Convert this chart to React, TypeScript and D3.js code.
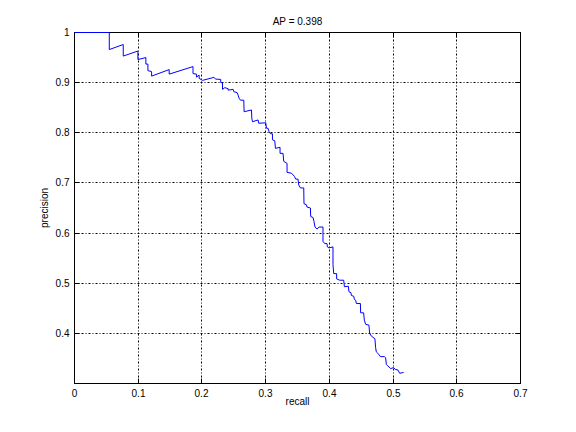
import * as d3 from "d3";

const WIDTH = 576;
const HEIGHT = 432;
const MARGIN = { top: 32.5, right: 55.5, bottom: 48.5, left: 74.5 };

const TITLE = "AP = 0.398";
const X_LABEL = "recall";
const Y_LABEL = "precision";

const X_TICKS = [0, 0.1, 0.2, 0.3, 0.4, 0.5, 0.6, 0.7];
const Y_TICKS = [0.4, 0.5, 0.6, 0.7, 0.8, 0.9, 1];

// vertices of the precision/recall curve
const recall = [
  0, 0.0546, 0.0546, 0.0765, 0.0765, 0.0995, 0.0995, 0.112, 0.112, 0.1152,
  0.1152, 0.121, 0.121, 0.1486, 0.1486, 0.186, 0.186, 0.1916, 0.1916, 0.1956,
  0.1956, 0.201, 0.2187, 0.2218, 0.2295, 0.2295, 0.2323, 0.2323, 0.2359, 0.2411,
  0.2411, 0.249, 0.25, 0.2552, 0.2568, 0.2583, 0.2605, 0.2657, 0.2662, 0.2778,
  0.2783, 0.2794, 0.2881, 0.2892, 0.3002, 0.3013, 0.3038, 0.3054, 0.3076, 0.3107,
  0.3107, 0.3143, 0.3154, 0.3226, 0.3226, 0.3273, 0.3284, 0.3336, 0.3336, 0.3405,
  0.3452, 0.3472, 0.3508, 0.3519, 0.3546, 0.3598, 0.3602, 0.364, 0.3649, 0.3703,
  0.3707, 0.3744, 0.3759, 0.3775, 0.3806, 0.3838, 0.39, 0.39, 0.3927, 0.3963,
  0.3969, 0.3994, 0.4057, 0.4057, 0.4068, 0.4114, 0.4114, 0.4162, 0.4225, 0.4236,
  0.4298, 0.4308, 0.4339, 0.4346, 0.4382, 0.4393, 0.4413, 0.4424, 0.4487, 0.4491,
  0.4538, 0.4549, 0.457, 0.4621, 0.4632, 0.4659, 0.4715, 0.4726, 0.4737, 0.4778,
  0.48, 0.4863, 0.4883, 0.4894, 0.4919, 0.4962, 0.5009, 0.5035, 0.5076, 0.5103,
  0.5165,
];

const precision = [
  1, 1, 0.966, 0.976, 0.953, 0.963, 0.946, 0.95, 0.937, 0.937,
  0.924, 0.922, 0.913, 0.926, 0.917, 0.932, 0.918, 0.917, 0.911, 0.915,
  0.9085, 0.9045, 0.9105, 0.907, 0.9065, 0.9, 0.9, 0.8866, 0.89, 0.888,
  0.885, 0.8866, 0.882, 0.88, 0.875, 0.869, 0.865, 0.865, 0.842, 0.8455,
  0.829, 0.822, 0.8256, 0.819, 0.82, 0.809, 0.809, 0.802, 0.798, 0.798,
  0.786, 0.784, 0.769, 0.771, 0.759, 0.759, 0.743, 0.739, 0.721, 0.7195,
  0.713, 0.7076, 0.7076, 0.696, 0.69, 0.69, 0.6585, 0.6565, 0.652, 0.65,
  0.633, 0.631, 0.623, 0.612, 0.608, 0.612, 0.612, 0.5835, 0.579, 0.579,
  0.5724, 0.5704, 0.5724, 0.537, 0.5193, 0.519, 0.5087, 0.506, 0.506, 0.493,
  0.494, 0.483, 0.481, 0.4755, 0.474, 0.4676, 0.466, 0.4596, 0.4596, 0.441,
  0.441, 0.4264, 0.418, 0.4164, 0.4, 0.3945, 0.3894, 0.3715, 0.363, 0.358,
  0.3536, 0.3536, 0.3516, 0.338, 0.335, 0.3297, 0.3317, 0.328, 0.327, 0.3204,
  0.322,
];

const FONT = "'Liberation Sans', Arial, Helvetica, sans-serif";
const TICK_LEN = 5;
const GRID_DASH = "2,2,1,2";

// snap to pixel centres so the 1px lines stay crisp
const crisp = (v) => Math.floor(v) + 0.5;

const App = () => {
  const left = MARGIN.left;
  const right = WIDTH - MARGIN.right;
  const top = MARGIN.top;
  const bottom = HEIGHT - MARGIN.bottom;

  const xScale = d3.scaleLinear().domain([0, 0.7]).range([left, right]);
  const yScale = d3.scaleLinear().domain([0.3, 1]).range([bottom, top]);

  const points = recall.map((r, i) => [r, precision[i]]);
  const lineBuilder = d3
    .line()
    .x((d) => xScale(d[0]))
    .y((d) => yScale(d[1]));
  const linePath = lineBuilder(points);

  return (
    <svg
      width={WIDTH}
      height={HEIGHT}
      style={{ position: "absolute", left: 0, top: 0, background: "#fff" }}
      fontFamily={FONT}
      fontSize={10}
    >
      <rect width={WIDTH} height={HEIGHT} fill="#fff" />

      {/* grid */}
      {X_TICKS.slice(1, -1).map((t) => (
        <line
          key={"gx" + t}
          x1={crisp(xScale(t))}
          x2={crisp(xScale(t))}
          y1={top}
          y2={bottom}
          stroke="#000"
          strokeDasharray={GRID_DASH}
        />
      ))}
      {Y_TICKS.slice(0, -1).map((t) => (
        <line
          key={"gy" + t}
          x1={left}
          x2={right}
          y1={crisp(yScale(t))}
          y2={crisp(yScale(t))}
          stroke="#000"
          strokeDasharray={GRID_DASH}
        />
      ))}

      {/* frame + ticks */}
      <rect
        x={left}
        y={top}
        width={right - left}
        height={bottom - top}
        fill="none"
        stroke="#000"
      />
      {X_TICKS.map((t) => {
        const x = crisp(xScale(t));
        return (
          <g key={"tx" + t}>
            <line x1={x} x2={x} y1={bottom} y2={bottom - TICK_LEN} stroke="#000" />
            <line x1={x} x2={x} y1={top} y2={top + TICK_LEN} stroke="#000" />
            <text x={x} y={bottom + 13.5} textAnchor="middle">
              {t}
            </text>
          </g>
        );
      })}
      {Y_TICKS.map((t) => {
        const y = crisp(yScale(t));
        return (
          <g key={"ty" + t}>
            <line x1={left} x2={left + TICK_LEN} y1={y} y2={y} stroke="#000" />
            <line x1={right} x2={right - TICK_LEN} y1={y} y2={y} stroke="#000" />
            <text x={left - 5} y={y} dy="0.35em" textAnchor="end">
              {t}
            </text>
          </g>
        );
      })}

      <path d={linePath} fill="none" stroke="#0000ff" strokeWidth={1} />

      <text x={(left + right) / 2} y={top - 8} textAnchor="middle">
        {TITLE}
      </text>
      <text x={(left + right) / 2} y={bottom + 21.5} textAnchor="middle">
        {X_LABEL}
      </text>
      <text
        transform={`translate(${left - 27},${(top + bottom) / 2}) rotate(-90)`}
        textAnchor="middle"
      >
        {Y_LABEL}
      </text>
    </svg>
  );
};

export default App;
